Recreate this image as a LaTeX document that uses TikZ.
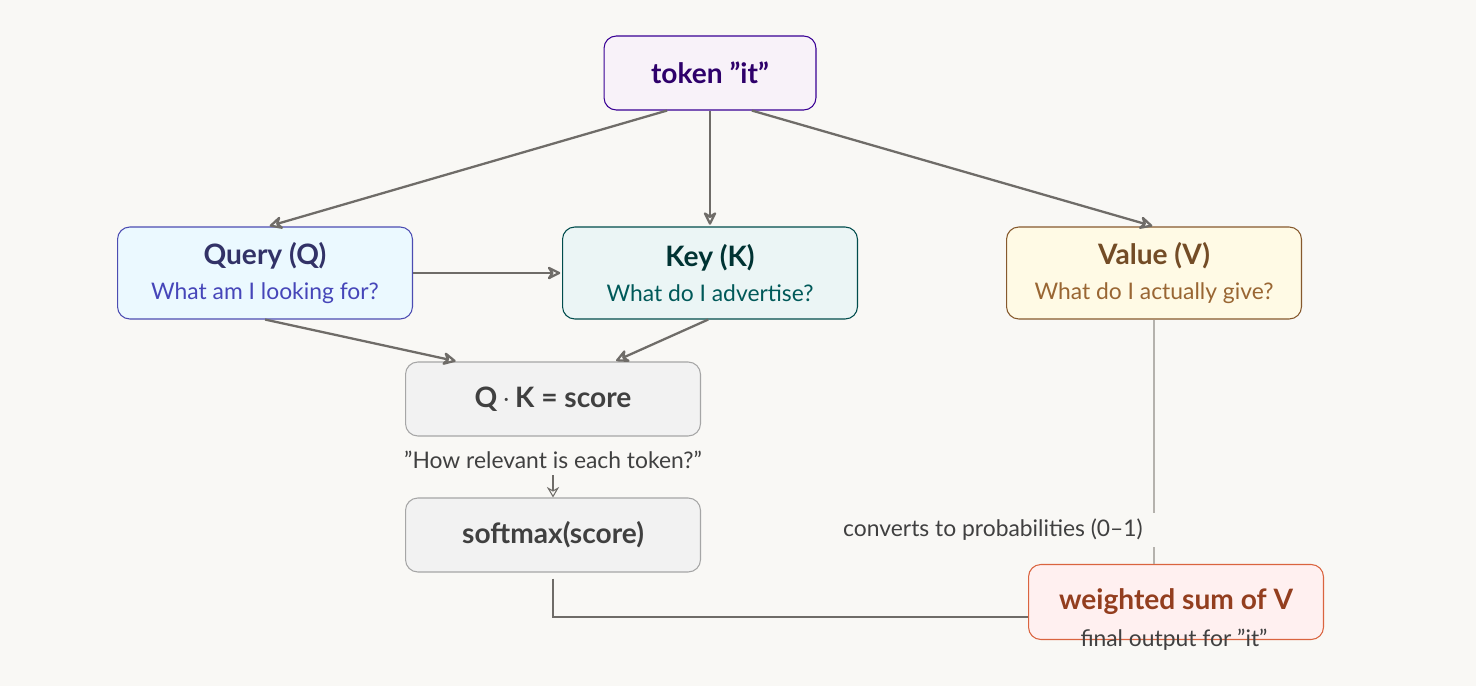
\documentclass[tikz,border=0pt]{standalone}
\usepackage{fontspec}
\setmainfont{Lato}
\usetikzlibrary{arrows.meta,positioning}
\definecolor{bg}{HTML}{F9F8F5}
\definecolor{edgec}{HTML}{6F6C68}
\definecolor{lightc}{HTML}{B5B2AD}
\newcommand{\qt}{\symbol{34}}
\newcommand{\subfont}{\fontsize{13}{16}\selectfont\mdseries}
\begin{document}
\begin{tikzpicture}
  [x=0.02cm, y=-0.02cm,
   >={Stealth[length=9pt,width=9pt,open,round]},
   box/.style={rectangle, rounded corners=7pt, line width=0.6pt,
               minimum width=5.9cm, minimum height=1.84cm, align=center,
               font=\fontsize{16}{19}\selectfont\bfseries},
   small/.style={font=\subfont},
   link/.style={draw=edgec, line width=1.3pt, ->, shorten >=1pt},]
  \fill[bg] (0,0) rectangle (1476,686);
  \node[box, draw=blue!45!violet!80!black, fill=blue!4!violet!5, text=blue!40!violet!60!black,
        minimum width=4.24cm, minimum height=1.48cm] (tok) at (710,73) {token \qt it\qt};
  \node[box, draw=blue!40!gray, fill=blue!30!cyan!8, text=blue!35!gray!60!black] (query) at (265,273)
        {Query (Q)\\[1pt]{\subfont\color{blue!45!gray}What am I looking for?}};
  \node[box, draw=teal!60!black, fill=teal!8, text=teal!40!black] (key) at (710,273)
        {Key (K)\\[1pt]{\subfont\color{teal!70!black}What do I advertise?}};
  \node[box, draw=brown!70!black, fill=orange!40!yellow!10, text=brown!60!black] (val) at (1154,273)
        {Value (V)\\[1pt]{\subfont\color{brown!80!black}What do I actually give?}};
  \node[box, draw=gray!70, fill=black!5, text=black!75,
        minimum height=1.48cm] (score) at (553,399) {Q\,$\cdot$\,K = score};
  \node[box, draw=gray!70, fill=black!5, text=black!75,
        minimum height=1.48cm] (soft) at (553,535) {softmax(score)};
  \node[box, draw=red!35!brown!90, fill=red!6, text=red!30!brown!70!black,
        minimum height=1.5cm] (wsum) at (1176,602) {weighted sum of V};
  \node[small, text=black!75] (rel) at (553,460) {\qt How relevant is each token?\qt};
  \node[small, text=black!75] (prob) at (993,530) {converts to probabilities (0–1)};
  \node[small, text=black!75] (fin) at (1174,640) {final output for \qt it\qt};
  \coordinate (corner) at (553,617);
  \draw[link] ([xshift=-24.4pt]tok.south) -- ([xshift=1.7pt]query.north);
  \draw[link] (tok.south) -- (key.north);
  \draw[link] ([xshift=23.8pt]tok.south) -- (val.north);
  \draw[link] (query.east) -- (key.west);
  \draw[link] (query.south) -- ([xshift=-54.4pt]score.north);
  \draw[link] ([xshift=-1pt]key.south) -- ([xshift=35pt]score.north);
  \draw[draw=edgec, line width=0.6pt, ->, >={Stealth[length=6pt,width=7pt,open]}]
        (rel.south) -- (soft.north);
  \draw[lightc, line width=0.9pt] (val.south) -- (prob.north -| val.south);
  \draw[lightc, line width=0.9pt] (prob.south -| val.south) -- (wsum.north -| val.south);
  \draw[edgec, line width=1.6pt] ([yshift=-3.4pt]soft.south) -- (corner) -- (corner -| wsum.west);
\end{tikzpicture}
\end{document}
